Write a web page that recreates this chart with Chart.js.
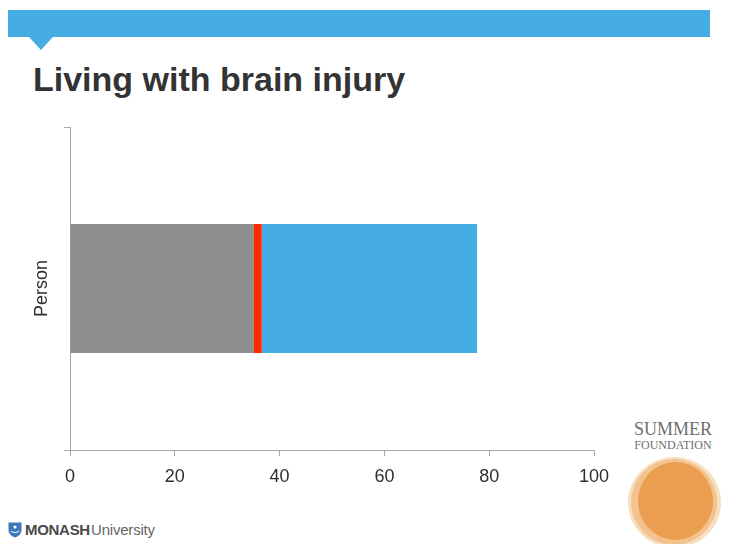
<!DOCTYPE html>
<html>
<head>
<meta charset="utf-8">
<title>Living with brain injury</title>
<script src="https://cdn.jsdelivr.net/npm/chart.js@4/dist/chart.umd.min.js"></script>
<style>
  html, body { margin: 0; padding: 0; background: #fff; }
  #slide { position: relative; width: 731px; height: 544px; overflow: hidden; font-family: "Liberation Sans", Arial, sans-serif; }
  #topbar { position: absolute; left: 8px; top: 10px; width: 702px; height: 27px; background: #45ade3; }
  #notch { position: absolute; left: 29px; top: 37px; width: 0; height: 0;
    border-left: 12.5px solid transparent; border-right: 12.5px solid transparent; border-top: 13px solid #45ade3; }
  #title { position: absolute; left: 33px; top: 60px; font-size: 34px; font-weight: bold; color: #333; white-space: nowrap; }
  #chartWrap { position: absolute; left: 0; top: 0; width: 731px; height: 544px; }
  #monash { position: absolute; left: 8px; top: 521px; height: 17px; font-size: 15px; color: #555; white-space: nowrap; }
  #monash svg { position: absolute; left: 0; top: 1px; }
  #monash .m { position: absolute; left: 17px; top: 0; font-weight: bold; letter-spacing: -0.3px; color: #4a4a4a; }
  #monash .u { position: absolute; left: 83px; top: 0; color: #666; letter-spacing: -0.2px; }
  #summer { position: absolute; left: 632px; top: 420px; width: 82px; text-align: center; font-family: "Liberation Serif", "Times New Roman", serif; color: #6e6e6e; }
  #summer .s1 { font-size: 18px; line-height: 18px; }
  #summer .s2 { font-size: 12px; line-height: 14px; }
  #sunOuter { position: absolute; left: 628px; top: 457px; width: 93px; height: 91px; border-radius: 50%; background: rgba(243, 196, 140, 0.55); }
  #sunMid { position: absolute; left: 631px; top: 459px; width: 86px; height: 86px; border-radius: 50%; background: rgba(238, 176, 110, 0.6); }
  #sunInner { position: absolute; left: 638px; top: 462px; width: 75px; height: 78px; border-radius: 50%; background: #eb9e4f; }
</style>
</head>
<body>
<div id="slide">
  <div id="topbar"></div>
  <div id="notch"></div>
  <div id="title">Living with brain injury</div>

  <div id="monash">
    <svg width="14" height="16" viewBox="0 0 14 16">
      <path d="M0.5 0.5 H13.5 V8 C13.5 12 10 14.5 7 15.5 C4 14.5 0.5 12 0.5 8 Z" fill="#3d78b8"/>
      <path d="M3 9 C4.5 11 9.5 11 11 9" stroke="#fff" stroke-width="1.2" fill="none"/>
      <circle cx="7" cy="5" r="1.6" fill="#fff"/>
    </svg>
    <span class="m">MONASH</span><span class="u">University</span>
  </div>

  <div id="summer"><div class="s1">SUMMER</div><div class="s2">FOUNDATION</div></div>
  <div id="sunOuter"></div>
  <div id="sunMid"></div>
  <div id="sunInner"></div>

  <div id="chartWrap"><canvas id="chart" width="731" height="544"></canvas></div>
</div>

<script>
// data
var categories = ['Person'];
var seriesGrey = [35.1];
var seriesRed = [1.5];
var seriesBlue = [41.1];
var xTicks = [0, 20, 40, 60, 80, 100];

(function () {
  var el = document.getElementById('chart');
  if (!el || typeof Chart === 'undefined') return;

  var ctx = el.getContext('2d');
  new Chart(ctx, {
    type: 'bar',
    data: {
      labels: categories,
      datasets: [
        { label: 'Grey', data: seriesGrey, backgroundColor: '#8e8e8e', borderWidth: 0 },
        { label: 'Red', data: seriesRed, backgroundColor: '#ff2a00', borderWidth: 0 },
        { label: 'Blue', data: seriesBlue, backgroundColor: '#45ade3', borderWidth: 0 }
      ]
    },
    options: {
      indexAxis: 'y',
      responsive: false,
      animation: false,
      datasets: { bar: { categoryPercentage: 0.8, barPercentage: 0.5 } },
      layout: { padding: { left: 20, top: 127, right: 137, bottom: 54 } },
      plugins: {
        legend: { display: false },
        tooltip: { enabled: false }
      },
      scales: {
        x: {
          stacked: true,
          min: 0,
          max: 100,
          afterBuildTicks: function (axis) {
            axis.ticks = xTicks.map(function (v) { return { value: v }; });
          },
          afterFit: function (axis) { axis.height = 40; },
          grid: { drawOnChartArea: false, tickLength: 6, color: '#a8a8a8' },
          border: { color: '#a8a8a8' },
          ticks: { color: '#2e2e2e', padding: 10, font: { family: 'Liberation Sans', size: 18 } }
        },
        y: {
          stacked: true,
          afterFit: function (axis) { axis.width = 50; },
          grid: { drawOnChartArea: false, tickLength: 6, color: '#a8a8a8' },
          border: { color: '#a8a8a8' },
          ticks: { display: false },
          title: {
            display: true,
            text: 'Person',
            color: '#2e2e2e',
            padding: { top: 11, bottom: 0 },
            font: { family: 'Liberation Sans', size: 18 }
          }
        }
      }
    }
  });
})();
</script>
</body>
</html>
